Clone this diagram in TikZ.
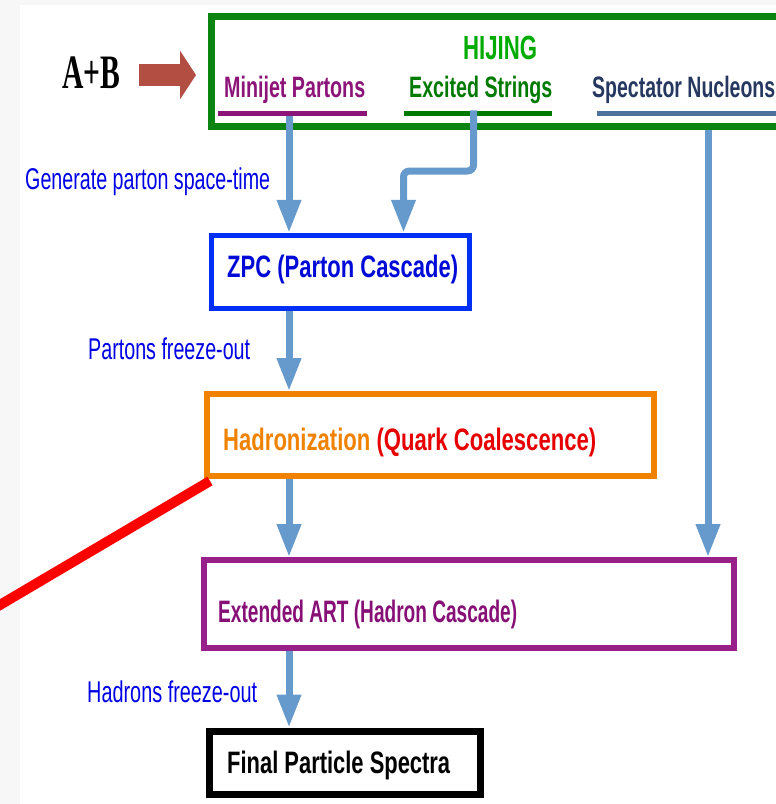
\documentclass[tikz,border=0pt]{standalone}
\usepackage{fontspec}
\setmainfont{Liberation Sans}
\newfontfamily\serifb{Liberation Serif}
\usepackage{graphicx}
\usetikzlibrary{arrows.meta}
\definecolor{bggrey}{RGB}{247,247,247}
\definecolor{hijgreen}{RGB}{12,132,18}
\definecolor{hijtext}{RGB}{0,172,0}
\definecolor{exgreen}{RGB}{0,122,0}
\definecolor{mjpurple}{RGB}{140,20,120}
\definecolor{snnavy}{RGB}{38,56,96}
\definecolor{snline}{RGB}{78,112,156}
\definecolor{lblblue}{RGB}{0,0,230}
\definecolor{zpcblue}{RGB}{0,48,245}
\definecolor{zpctext}{RGB}{0,10,215}
\definecolor{hadorange}{RGB}{240,130,0}
\definecolor{qcred}{RGB}{230,0,0}
\definecolor{artpurple}{RGB}{152,32,138}
\definecolor{arttext}{RGB}{135,16,118}
\definecolor{arrblue}{RGB}{102,153,204}
\definecolor{abred}{RGB}{178,78,66}
\newcommand{\fitw}[2]{\resizebox{#1pt}{\height}{#2}}
\begin{document}
\begin{tikzpicture}[x=1pt,y=-1pt,
  txt/.style={inner sep=0pt, anchor=base west},
  lbl/.style={txt, font=\fontsize{30}{34}\selectfont, text=lblblue},
  boxtxt/.style={txt, font=\fontsize{31}{34}\selectfont\bfseries},
  frame/.style={draw, line width=6pt, inner sep=0pt, fill=white},
  uline/.style={inner sep=0pt, minimum height=5pt},
  flow/.style={draw=arrblue, line width=7pt, -{Triangle[width=23pt,length=33pt]}},
]
\useasboundingbox (0,0) rectangle (776,804);
\fill[bggrey] (0,0) rectangle (776,804);
\fill[white] (20,5) rectangle (776,804);

% boxes
\node[frame, draw=hijgreen, line width=7pt, minimum width=588.5pt, minimum height=110pt] (hij) at (505.75,71) {};
\node[frame, draw=zpcblue, line width=5.5pt, minimum width=258pt, minimum height=73pt] (zpc) at (340.5,272) {};
\node[frame, draw=hadorange, minimum width=447pt, minimum height=82pt] (had) at (430.5,435) {};
\node[frame, draw=artpurple, minimum width=530pt, minimum height=88pt] (art) at (469,604) {};
\node[frame, draw=black, line width=7pt, minimum width=271pt, minimum height=63pt] (fin) at (344.5,762.5) {};

% underlines
\node[uline, fill=mjpurple, minimum width=149pt] (ulmj) at (292.5,113) {};
\node[uline, fill=exgreen, minimum width=148pt] (ules) at (478,113) {};
\node[uline, fill=snline, minimum width=190pt] (ulsn) at (692,113) {};

% texts
\node[txt, font=\serifb\bfseries\fontsize{48}{50}\selectfont] (ab) at (62,88) {\fitw{58}{A+B}};
\node[boxtxt, font=\fontsize{33.5}{36}\selectfont\bfseries, text=hijtext] (hijt) at (463,59) {\fitw{74}{HIJING}};
\node[boxtxt, font=\fontsize{29.5}{34}\selectfont\bfseries, text=mjpurple] (mj) at (224,97) {\fitw{141}{Minijet Partons}};
\node[boxtxt, font=\fontsize{29.5}{34}\selectfont\bfseries, text=exgreen] (es) at (409,97) {\fitw{143}{Excited Strings}};
\node[boxtxt, font=\fontsize{29.5}{34}\selectfont\bfseries, text=snnavy] (sn) at (592,97) {\fitw{183}{Spectator Nucleons}};
\node[boxtxt, text=zpctext] (zpct) at (227,277) {\fitw{231}{ZPC (Parton Cascade)}};
\node[boxtxt] (hadt) at (223,450) {\fitw{373}{\textcolor{hadorange}{Hadronization} \textcolor{qcred}{(Quark Coalescence)}}};
\node[boxtxt, text=arttext] (artt) at (218,622) {\fitw{299}{Extended ART (Hadron Cascade)}};
\node[boxtxt, text=black] (fint) at (227,773) {\fitw{223}{Final Particle Spectra}};
\node[lbl] (gen) at (25,189) {\fitw{245}{Generate parton space-time}};
\node[lbl] (pfo) at (88,359) {\fitw{162}{Partons freeze-out}};
\node[lbl] (hfo) at (87,702) {\fitw{170}{Hadrons freeze-out}};

% coordinates for connectors
\coordinate (ax) at (289,0);
\coordinate (esx) at (473.5,0);
\coordinate (bend) at (403.5,171);
\coordinate (spx) at (708,0);
\coordinate (abtail) at (139,75);
\coordinate (redend) at (-12,612);

% connectors
\draw[abred, line width=22pt, -{Triangle[width=48pt,length=16pt]}, shorten >=12pt] (abtail) -- (abtail -| hij.west);
\draw[flow] (ulmj.south -| ax) -- (zpc.north -| ax);
\draw[flow, rounded corners=6pt] (ules.north -| esx) |- (bend) -- (zpc.north -| bend);
\draw[flow] (hij.south -| spx) -- (art.north -| spx);
\draw[flow] (zpc.south -| ax) -- (had.north -| ax);
\draw[flow] (had.south -| ax) -- (art.north -| ax);
\draw[flow] (art.south -| ax) -- (fin.north -| ax);
\draw[red, line width=10pt] (had.south west) ++(6pt,-2pt) -- (redend);
\end{tikzpicture}
\end{document}
